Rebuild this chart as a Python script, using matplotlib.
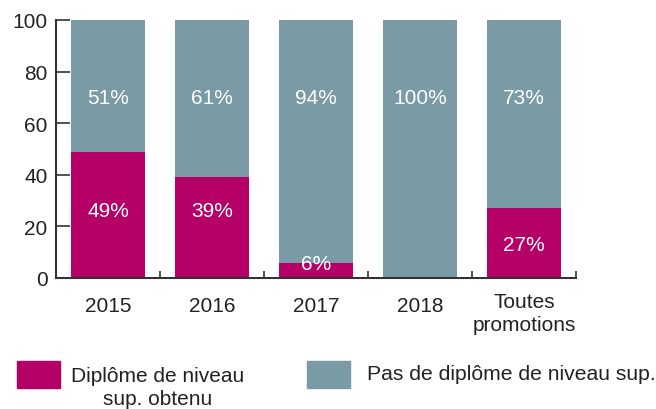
import matplotlib.pyplot as plt
from matplotlib.patches import Rectangle
from matplotlib.transforms import ScaledTranslation

plt.rcParams['font.family'] = ['Liberation Sans', 'DejaVu Sans']

# données
categories = ['2015', '2016', '2017', '2018', 'Toutes\npromotions']
diplome = [49, 39, 6, 0, 27]
pas_diplome = [51, 61, 94, 100, 73]

col_dip = '#b50068'
col_pas = '#7a9ba6'
col_axe = '#333333'

fig = plt.figure(figsize=(6.56, 4.10), dpi=100)
ax = fig.add_axes([56 / 656, 1 - 279 / 410, (576 - 56) / 656, (279 - 21) / 410])

x = range(len(categories))
ax.bar(x, diplome, width=0.72, color=col_dip)
ax.bar(x, pas_diplome, width=0.72, bottom=diplome, color=col_pas)

# étiquettes dans les barres
y_bas = [26, 26, 5.5, None, 13]
for i in x:
    ax.text(i, 70, f'{pas_diplome[i]}%', ha='center', va='center',
            color='white', fontsize=15)
    if diplome[i] > 0:
        ax.text(i, y_bas[i], f'{diplome[i]}%', ha='center', va='center',
                color='white', fontsize=15)

ax.set_xlim(-0.5, 4.5)
ax.set_ylim(0, 100)
ax.set_yticks([0, 20, 40, 60, 80, 100])
ax.set_xticks([])
ax.set_xticks([k + 0.5 for k in range(-1, 5)], minor=True)

# libellés des catégories sous l'axe
trans = ax.get_xaxis_transform()
for i, cat in enumerate(categories):
    dy = 28 if '\n' not in cat else 35
    off = ScaledTranslation(0, -dy / 100, fig.dpi_scale_trans)
    ax.text(i, 0, cat, transform=trans + off, ha='center', va='center',
            fontsize=15, color='#222222', linespacing=1.3)

ax.tick_params(axis='x', which='minor', direction='in', length=5,
               width=1.2, color=col_axe)
ax.tick_params(axis='y', direction='in', length=10, width=1.2,
               color=col_axe, labelsize=15, labelcolor='#222222', pad=6)

for s in ['top', 'right']:
    ax.spines[s].set_visible(False)
for s in ['left', 'bottom']:
    ax.spines[s].set_color(col_axe)
    ax.spines[s].set_linewidth(1.5)

# légende
fig.patches.append(Rectangle((17 / 656, 1 - 389 / 410), 43 / 656, 27 / 410,
                             transform=fig.transFigure, color=col_dip))
fig.patches.append(Rectangle((307 / 656, 1 - 389 / 410), 43 / 656, 27 / 410,
                             transform=fig.transFigure, color=col_pas))
fig.text(71 / 656, 1 - 388 / 410, 'Diplôme de niveau\nsup. obtenu',
         ha='left', va='center', multialignment='center', fontsize=15,
         color='#222222', linespacing=1.3)
fig.text(367 / 656, 1 - 375 / 410, 'Pas de diplôme de niveau sup.',
         ha='left', va='center', fontsize=15.2, color='#222222')

fig.savefig('out.png', dpi=100)
